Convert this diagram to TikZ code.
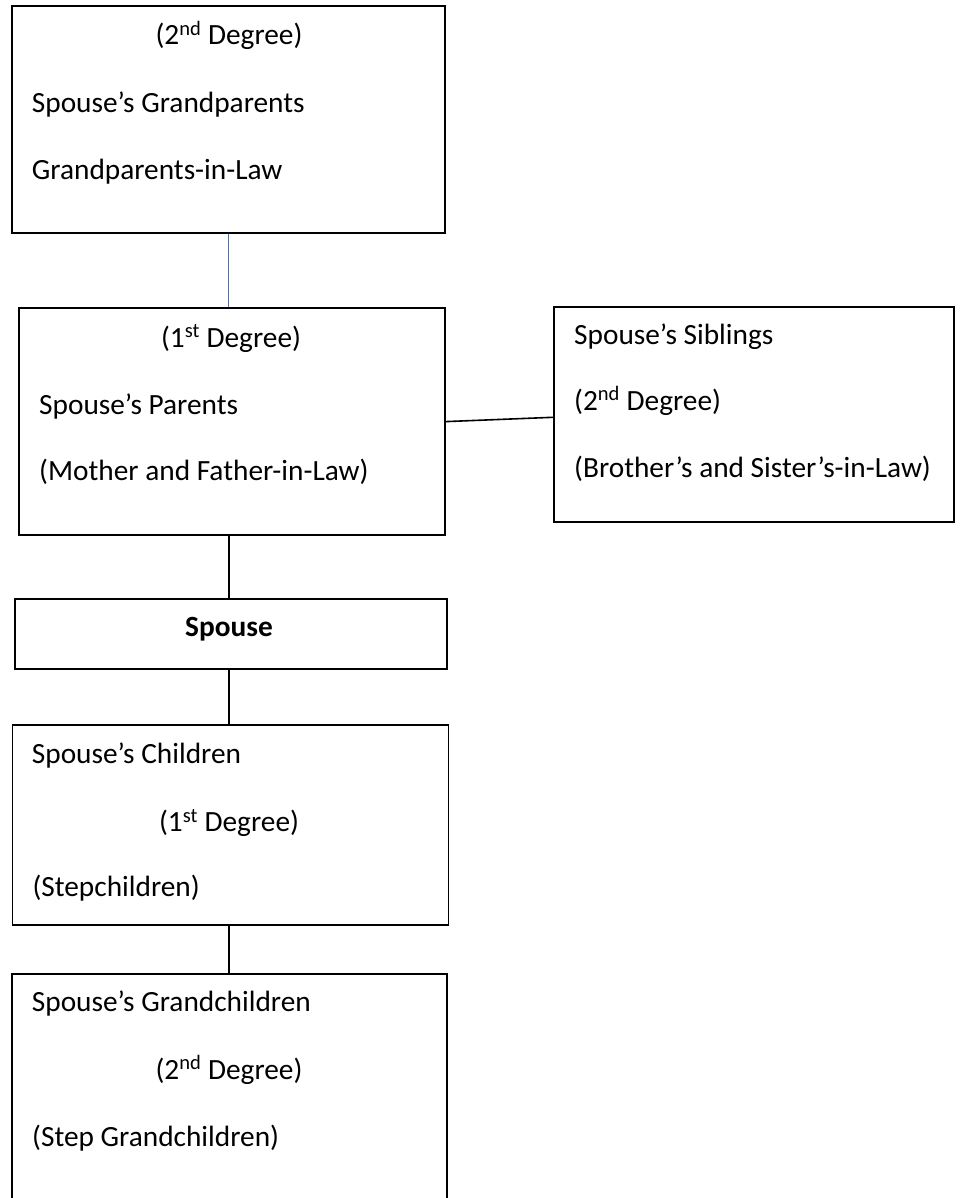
\documentclass[tikz,border=0pt]{standalone}
\usepackage{fontspec}
\setmainfont{Carlito}
\usetikzlibrary{positioning,calc}
\definecolor{linkblue}{RGB}{68,114,196}
\newcommand{\degsup}[1]{\textsuperscript{#1}}

\begin{document}
\begin{tikzpicture}[
  x=1pt, y=-1pt,
  font=\fontsize{29.33}{35}\selectfont,
  kinbox/.style={rectangle, draw=black, line width=1.6pt, anchor=north west, inner sep=0pt},
  kintext/.style={inner sep=0pt, anchor=base west},
  kindeg/.style={inner sep=0pt, anchor=base},
  link/.style={draw=black, line width=1.6pt},
  bluelink/.style={draw=linkblue, line width=1.3pt}
]
\clip (0,0) rectangle (964,1198);
% boxes
\node[kinbox, minimum width=433pt, minimum height=227pt] (gparents) at (11,5) {};
\node[kinbox, minimum width=426pt, minimum height=227pt] (parents) at (18.3,307.3) {};
\node[kinbox, minimum width=400pt, minimum height=215pt] (siblings) at (553,306) {};
\node[kinbox, minimum width=432pt, minimum height=70pt] (spouse) at (14.3,598.3) {};
\node[kinbox, minimum width=436pt, minimum height=200pt] (children) at (11.7,724) {};
\node[kinbox, minimum width=435pt, minimum height=260pt] (gchildren) at (11.3,973) {};
% texts
\node[kindeg] (gparentsDeg) at (229,45) {(2\degsup{nd} Degree)};
\node[kintext] (gparentsName) at (31.7,112.7) {Spouse's Grandparents};
\node[kintext] (gparentsLaw) at (31.7,180) {Grandparents-in-Law};
\node[kindeg] (parentsDeg) at (231,347) {(1\degsup{st} Degree)};
\node[kintext] (parentsName) at (39,414) {Spouse's Parents};
\node[kintext] (parentsLaw) at (39,480) {(Mother and Father-in-Law)};
\node[kintext] (siblingsName) at (574,344) {Spouse's Siblings};
\node[kintext] (siblingsDeg) at (574,410) {(2\degsup{nd} Degree)};
\node[kintext] (siblingsLaw) at (574,477) {(Brother's and Sister's-in-Law)};
\node[kindeg] (spouseName) at (229,636.7) {\textbf{Spouse}};
\node[kintext] (childrenName) at (31.7,763.3) {Spouse's Children};
\node[kindeg] (childrenDeg) at (229,831.7) {(1\degsup{st} Degree)};
\node[kintext] (childrenStep) at (32.3,896.7) {(Stepchildren)};
\node[kintext] (gchildrenName) at (31.7,1011.7) {Spouse's Grandchildren};
\node[kindeg] (gchildrenDeg) at (229,1079) {(2\degsup{nd} Degree)};
\node[kintext] (gchildrenStep) at (32,1146) {(Step Grandchildren)};
% connectors
\coordinate (spine) at (228.7,0);
\draw[bluelink] (gparents.south -| spine) -- (parents.north -| spine);
\draw[link] (parents.east) -- ([yshift=-3pt]siblings.west);
\draw[link] (parents.south -| spine) -- (spouse.north -| spine);
\draw[link] (spouse.south -| spine) -- (children.north -| spine);
\draw[link] (children.south -| spine) -- (gchildren.north -| spine);
\end{tikzpicture}
\end{document}
